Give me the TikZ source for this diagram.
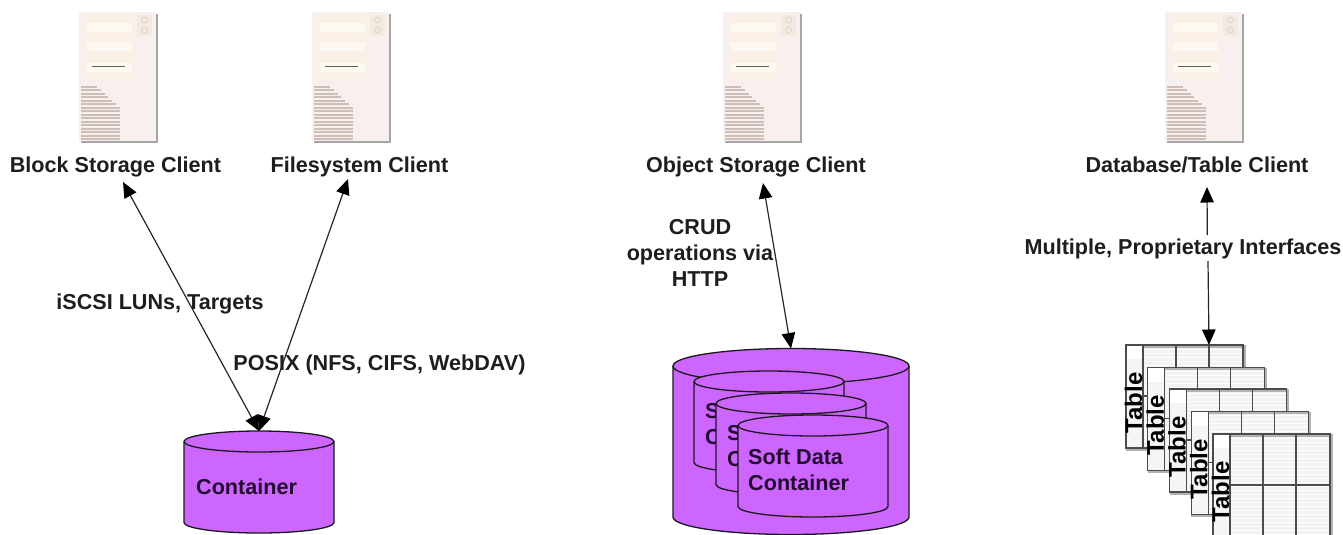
\documentclass[tikz,border=0pt]{standalone}
\usepackage{fontspec}
\setmainfont{Liberation Sans}
\usetikzlibrary{arrows.meta}
\definecolor{cyl}{HTML}{CC66FF}
\definecolor{ink}{HTML}{1E1E1E}
\definecolor{cylink}{HTML}{240A30}
\definecolor{srvbg}{HTML}{F8F0EE}
\definecolor{srvpanel}{HTML}{FAF0E6}
\definecolor{srvbar}{HTML}{FDF8F2}
\definecolor{srvline}{HTML}{CDBEB7}
\tikzset{
  lbl/.style={font=\fontsize{21.6}{26}\selectfont\bfseries,text=ink,inner sep=0pt,align=center},
  lblb/.style={font=\fontsize{21.6}{26}\selectfont\bfseries,text=ink,inner sep=0pt,anchor=base},
  cyllbl/.style={font=\fontsize{21.6}{26}\selectfont\bfseries,text=cylink,inner sep=0pt,align=left,anchor=west},
  dbl/.style={draw=black!85,line width=1.2pt,{Triangle[length=15.5pt,width=13.5pt,color=black,fill=black]}-{Triangle[length=15.5pt,width=13.5pt,color=black,fill=black]}},
  sgl/.style={draw=black!85,line width=1.2pt,-{Triangle[length=15.5pt,width=13.5pt,color=black,fill=black]}},
  cylbody/.style={draw=black!90,line width=1.3pt,fill=cyl,line join=round},
  cylfit/.style={rectangle,inner sep=0pt,outer sep=0pt,draw=none},
  tbltxt/.style={font=\fontsize{24}{24}\selectfont\bfseries,text=black,rotate=90,inner sep=0pt},
  tblline/.style={draw=black!70,line width=1.3pt},
  tblbox/.style={draw=black!30,line width=2.6pt,fill=black!5,rectangle,inner sep=0pt,minimum width=117pt,minimum height=103pt}
}
% name, left x, right x, y of top ellipse centre, y of bottom ellipse centre, y radius
\newcommand{\cylshape}[6]{%
  \pgfmathsetmacro{\cylrx}{(#3-#2)/2}%
  \pgfmathsetmacro{\cylcx}{(#3+#2)/2}%
  \pgfmathsetmacro{\cylcy}{(#4+#5)/2}%
  \pgfmathsetmacro{\cylh}{#5-#4+2*#6}%
  \pgfmathsetmacro{\cylw}{#3-#2}%
  \path[cylbody] (#2,#4) -- (#2,#5) arc[start angle=180,end angle=0,x radius=\cylrx,y radius=#6]
     -- (#3,#4) arc[start angle=0,end angle=-180,x radius=\cylrx,y radius=#6] -- cycle;
  \draw[black!90,line width=1.3pt] (#2,#4) arc[start angle=180,end angle=0,x radius=\cylrx,y radius=#6];
  \node[cylfit,minimum width=\cylw pt,minimum height=\cylh pt] (#1) at (\cylcx,\cylcy) {};
}
\newcommand{\serverpic}[1]{%
\begin{scope}[xshift=#1pt]
  \fill[black!35] (81,14) rectangle (157.5,142.5);
  \fill[srvbg] (79,12) rectangle (156,141);
  \fill[srvpanel] (85,15) rectangle (132.5,79);
  \foreach \ya/\yb in {23/32,42/51,63/72}{\fill[srvbar] (87,\ya) rectangle (132,\yb);}
  \draw[black!50!srvline,line width=1.7pt] (92,66.5) -- (125,66.5);
  \fill[srvpanel!85!srvline] (137,15) rectangle (152,36);
  \draw[srvline!70!srvbg,line width=.6pt] (144.5,20) circle (3) (144.5,30) circle (3);
  \foreach \yy/\xe in {87/97,90/101,93.5/105,97/108,100.5/112,104/116,107.5/120,111/120,114.5/120,118/120,121.5/120,125/120,128.5/120,132/120,135.5/120,139/120}{
    \draw[srvline,line width=2pt] (81,\yy) -- (\xe,\yy);}
\end{scope}}
\begin{document}
\begin{tikzpicture}[x=1pt,y=-1pt]
\useasboundingbox (0,0) rectangle (1343,535);
\clip (0,0) rectangle (1343,535);
\fill[white] (0,0) rectangle (1343,535);
\serverpic{0}\serverpic{233}\serverpic{644}\serverpic{1086}
\node[lblb] (cblock) at (115.5,172) {Block Storage Client};
\node[lblb] (cfile) at (359.5,172) {Filesystem Client};
\node[lblb] (cobj) at (756,172) {Object Storage Client};
\node[lblb] (cdb) at (1197,172) {Database/Table Client};
% small cylinder
\cylshape{cont}{184}{334}{441.5}{522.5}{10.5}
\node[cyllbl] (contl) at (196,487) {Container};
% large cylinder
\cylshape{big}{673}{909}{366}{517}{17.5}
\cylshape{s1}{694}{844}{381.5}{462.5}{10.5}
\node[cyllbl] (s1l) at (705,424) {Soft Data\\Container};
\cylshape{s2}{716}{866}{403.5}{484.5}{10.5}
\node[cyllbl] (s2l) at (727,446) {Soft Data\\Container};
\cylshape{s3}{738}{888}{425.5}{506.5}{10.5}
\node[cyllbl] (s3l) at (748,470) {Soft Data\\Container};
% tables
\foreach \i/\x/\y in {1/1126/345,2/1147.7/367.5,3/1169.5/389,4/1191.2/411.5,5/1213/434}{
  \begin{scope}[shift={(\x,\y)}]
    \node[tblbox,anchor=north west] (t\i) at (0,0) {};
    \foreach \yy in {4,8,...,100}{\draw[white,line width=.8pt] (18,\yy) -- (116,\yy);}
    \fill[white] (0,0) rectangle (17,103);
    \fill[black!4] (0,14) rectangle (17,103);
    \draw[tblline] (0,0) rectangle (117,103);
    \draw[tblline] (17,0) -- (17,103) (50,0) -- (50,103) (83,0) -- (83,103) (17,51) -- (117,51);
    \node[tbltxt] (tl\i) at (7.5,58) {Table};
  \end{scope}
}
\coordinate (tabtop) at (1209,345);
% connectors
\coordinate (blocktip) at (123,182);
\coordinate (filetip) at (348,179);
\coordinate (objtip) at (763,183);
\coordinate (dbtip) at (1207,187);
\coordinate (dbup) at (1207.3,235);
\coordinate (dbdown) at (1208,261);
\draw[dbl] (blocktip) -- (cont.north);
\draw[dbl] (filetip) -- (cont.north);
\draw[dbl] (objtip) -- (big.north);
\node[lblb] (ilab) at (160,309) {iSCSI LUNs, Targets};
\node[lblb] (plab) at (379.5,370) {POSIX (NFS, CIFS, WebDAV)};
\node[lbl] (clab) at (700,253) {CRUD\\operations via\\HTTP};
\node[lblb] (mlab) at (1183,254) {Multiple, Proprietary Interfaces};
\draw[sgl] (dbup) -- (dbtip);
\draw[sgl] (dbdown) -- (tabtop);
\end{tikzpicture}
\end{document}
